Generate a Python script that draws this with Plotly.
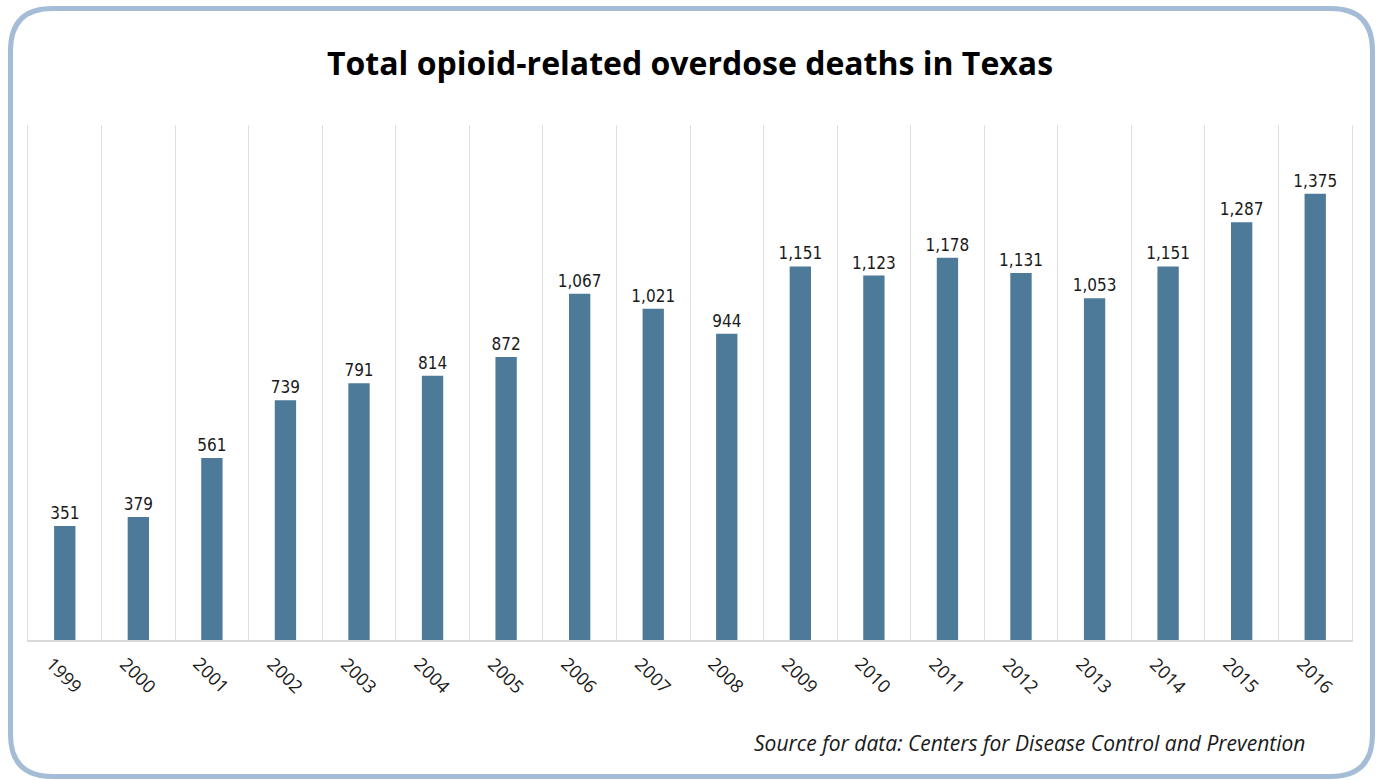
import plotly.graph_objects as go

years = ["1999", "2000", "2001", "2002", "2003", "2004", "2005", "2006", "2007",
         "2008", "2009", "2010", "2011", "2012", "2013", "2014", "2015", "2016"]
deaths = [351, 379, 561, 739, 791, 814, 872, 1067, 1021,
          944, 1151, 1123, 1178, 1131, 1053, 1151, 1287, 1375]

title_text = "Total opioid-related overdose deaths in Texas"
source_text = "Source for data: Centers for Disease Control and Prevention"

W, H = 1377, 780
ML, MR, MT, MB = 28, 25, 125, 140
PW, PH = W - ML - MR, H - MT - MB


def px_x(x):
    return (x - ML) / PW


def px_y(y):
    return 1 - (y - MT) / PH


idx = list(range(len(years)))
COND = "DejaVu Sans Condensed, Liberation Sans Narrow, Roboto Condensed, sans-serif"

fig = go.Figure()
fig.add_trace(go.Bar(
    x=idx, y=deaths,
    marker=dict(color="#4d7a99", line=dict(width=0)),
    texttemplate="%{y:,}", textposition="outside", constraintext="none",
    textfont=dict(family=COND, size=17, color="#1a1a1a"),
    cliponaxis=False,
    hoverinfo="x+y",
))

# rotated year labels as annotations centered under bars
for i, yr in zip(idx, years):
    fig.add_annotation(x=i, xref="x", y=0, yref="paper", text=yr, showarrow=False,
                       textangle=45, xanchor="center", yanchor="top", yshift=-9,
                       font=dict(family="Open Sans, Lato, sans-serif", size=18, color="#1a1a1a"))

fig.add_annotation(x=0.5, xref="paper", y=px_y(62), yref="paper", text="<b>" + title_text + "</b>",
                   showarrow=False, xanchor="center", yanchor="middle",
                   font=dict(family="Open Sans, Lato, sans-serif", size=32, color="#000000"))

fig.add_annotation(x=px_x(1307), xref="paper", y=px_y(743), yref="paper", text="<i>" + source_text + "</i>",
                   showarrow=False, xanchor="right", yanchor="middle",
                   font=dict(family="Open Sans, Lato, sans-serif", size=21, color="#1a1a1a"))

# rounded border
x0, y0, x1, y1, r = 10.5, 8.5, 1372.5, 776.5, 42


def P(x, y):
    return f"{px_x(x):.5f},{px_y(y):.5f}"


path = (f"M {P(x0 + r, y0)} L {P(x1 - r, y0)} Q {P(x1, y0)} {P(x1, y0 + r)} "
        f"L {P(x1, y1 - r)} Q {P(x1, y1)} {P(x1 - r, y1)} "
        f"L {P(x0 + r, y1)} Q {P(x0, y1)} {P(x0, y1 - r)} "
        f"L {P(x0, y0 + r)} Q {P(x0, y0)} {P(x0 + r, y0)} Z")
fig.add_shape(type="path", path=path, xref="paper", yref="paper",
              line=dict(color="#a4bcd6", width=5), layer="above")

fig.update_layout(
    width=W, height=H,
    margin=dict(l=ML, r=MR, t=MT, b=MB),
    paper_bgcolor="white", plot_bgcolor="white",
    showlegend=False, bargap=0.71,
    xaxis=dict(range=[-0.5, len(years) - 0.5], showticklabels=False, ticks="",
               showgrid=False, zeroline=False, showline=True, linecolor="#d9d9d9", linewidth=1.5,
               minor=dict(tick0=-0.5, dtick=1, showgrid=True, gridcolor="#e0e0e0", gridwidth=1, ticks="")),
    yaxis=dict(range=[0, 1587], showticklabels=False, ticks="", showgrid=False, zeroline=False,
               showline=True, mirror=True, linecolor="#e0e0e0", linewidth=1),
)

fig.write_html("out.html", config={"displayModeBar": False},
               post_script="document.body.style.margin='0';document.body.style.overflow='hidden';")
